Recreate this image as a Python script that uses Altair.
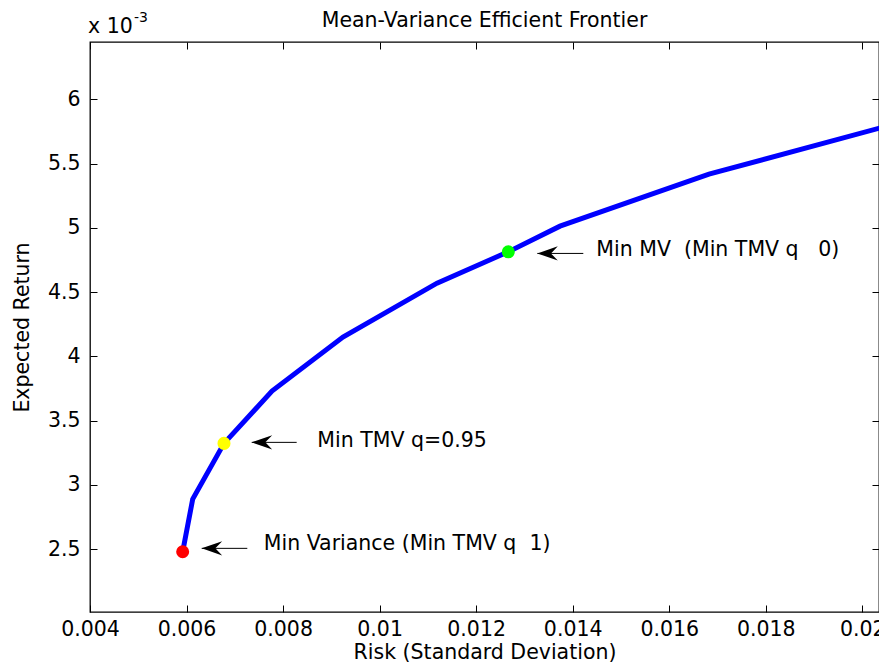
import altair as alt
import pandas as pd

# Efficient frontier (risk = std dev, return in units of 1e-3)
risk = [0.005920, 0.006128, 0.006776, 0.007770, 0.009241, 0.011189, 0.012666, 0.013737, 0.016824, 0.02051]
ret = [2.479, 2.889, 3.3226, 3.7296, 4.150, 4.570, 4.8136, 5.0136, 5.418, 5.792]

# Highlighted portfolios
pt_risk = [0.005920, 0.006776, 0.012666]
pt_ret = [2.479, 3.3226, 4.8136]
pt_name = ["Min Variance", "Min TMV q=0.95", "Min MV"]
pt_color = ["#ff0000", "#ffff00", "#00ff00"]

# Annotations
ann_text = ["Min Variance (Min TMV q\u00a0\u00a01)", "Min TMV q=0.95",
            "Min MV\u00a0\u00a0(Min TMV q\u00a0\u00a0\u00a00)"]
ann_x = [0.00760, 0.00871, 0.01449]
ann_y = [2.492, 3.296, 4.780]
arrow_tip = [0.006314, 0.007350, 0.013267]
arrow_tail = [0.007259, 0.008282, 0.014220]
arrow_y = [2.5054, 3.3304, 4.8012]

title_text = "Mean-Variance Efficient Frontier"
x_ticks = [0.004, 0.006, 0.008, 0.010, 0.012, 0.014, 0.016, 0.018, 0.020]
y_ticks = [2.5, 3.0, 3.5, 4.0, 4.5, 5.0, 5.5, 6.0]
x_domain = [0.004, 0.020346]
y_domain = [2.01, 6.447]

FONT = "DejaVu Sans"
FS = 20.5

frontier = pd.DataFrame({"risk": risk, "ret": ret})
pts = pd.DataFrame({"risk": pt_risk, "ret": pt_ret, "name": pt_name, "color": pt_color})
ann = pd.DataFrame({"x": ann_x, "y": ann_y, "text": ann_text,
                    "tip": arrow_tip, "tail": arrow_tail, "ay": arrow_y})
corner = pd.DataFrame({"x": [x_domain[0]], "y": [y_domain[1]]})
top_mid = pd.DataFrame({"x": [(x_domain[0] + x_domain[1]) / 2], "y": [y_domain[1]],
                        "text": [title_text]})

xs = alt.Scale(domain=x_domain, nice=False, zero=False)
ys = alt.Scale(domain=y_domain, nice=False, zero=False)

common_axis = dict(grid=False, domain=False, ticks=True, tickSize=7, offset=-7,
                   tickColor="black", tickWidth=1, labelColor="black",
                   labelFont=FONT, labelFontSize=FS, titleFont=FONT,
                   titleFontSize=FS, titleFontWeight="normal", titleColor="black")

x_bottom = alt.Axis(values=x_ticks, format="~g", orient="bottom", labelPadding=7,
                    title="Risk (Standard Deviation)", titleBaseline="alphabetic",
                    titleY=53, labelFlush=False, labelOverlap=False, **common_axis)
y_left = alt.Axis(values=y_ticks, format="~g", orient="left", labelPadding=10,
                  title="Expected Return", titlePadding=15, labelOverlap=False, **common_axis)
x_top = alt.Axis(values=x_ticks, orient="top", labels=False, title=None, **common_axis)
y_right = alt.Axis(values=y_ticks, orient="right", labels=False, title=None, **common_axis)

line = alt.Chart(frontier).mark_line(color="#0000ff", strokeWidth=5, clip=True).encode(
    x=alt.X("risk:Q", scale=xs, axis=x_bottom),
    y=alt.Y("ret:Q", scale=ys, axis=y_left),
)

frame = alt.Chart(frontier).mark_point(opacity=0).encode(
    x=alt.X("risk:Q", scale=xs, axis=x_top),
    y=alt.Y("ret:Q", scale=ys, axis=y_right),
)

dots = alt.Chart(pts).mark_circle(size=170, opacity=1).encode(
    x=alt.X("risk:Q", scale=xs, axis=None),
    y=alt.Y("ret:Q", scale=ys, axis=None),
    color=alt.Color("color:N", scale=None),
)

shafts = alt.Chart(ann).mark_rule(color="black", strokeWidth=1).encode(
    x=alt.X("tip:Q", scale=xs, axis=None),
    x2="tail:Q",
    y=alt.Y("ay:Q", scale=ys, axis=None),
)

heads = alt.Chart(ann).mark_point(
    shape="M0,0 L2,-0.7 L1.33,0 L2,0.7 Z", size=420, filled=True,
    color="black", opacity=1, strokeWidth=0,
).encode(
    x=alt.X("tip:Q", scale=xs, axis=None),
    y=alt.Y("ay:Q", scale=ys, axis=None),
)

labels = alt.Chart(ann).mark_text(align="left", baseline="alphabetic", font=FONT,
                                  fontSize=FS, color="black").encode(
    x=alt.X("x:Q", scale=xs, axis=None),
    y=alt.Y("y:Q", scale=ys, axis=None),
    text="text:N",
)

title = alt.Chart(top_mid).mark_text(align="center", baseline="alphabetic", font=FONT,
                                     fontSize=FS, color="black", dy=-15).encode(
    x=alt.X("x:Q", scale=xs, axis=None),
    y=alt.Y("y:Q", scale=ys, axis=None),
    text="text:N",
)

exp_base = alt.Chart(corner).mark_text(align="left", baseline="alphabetic", font=FONT,
                                       fontSize=FS, color="black", dy=-9, dx=-2).encode(
    x=alt.X("x:Q", scale=xs, axis=None),
    y=alt.Y("y:Q", scale=ys, axis=None),
    text=alt.value("x 10"),
)
exp_sup = alt.Chart(corner).mark_text(align="left", baseline="alphabetic", font=FONT,
                                      fontSize=14, color="black", dy=-20, dx=44).encode(
    x=alt.X("x:Q", scale=xs, axis=None),
    y=alt.Y("y:Q", scale=ys, axis=None),
    text=alt.value("-3"),
)

chart = alt.layer(line, frame, dots, shafts, heads, labels, title, exp_base, exp_sup).resolve_axis(
    x="independent", y="independent"
).properties(
    width=789,
    height=570,
    autosize=alt.AutoSizeParams(type="none"),
    padding={"left": 82, "top": 34, "right": 0, "bottom": 53},
    background="white",
).configure_view(stroke="black", strokeWidth=1.3)

chart.save("out.html", embed_options={"renderer": "svg", "actions": False})
